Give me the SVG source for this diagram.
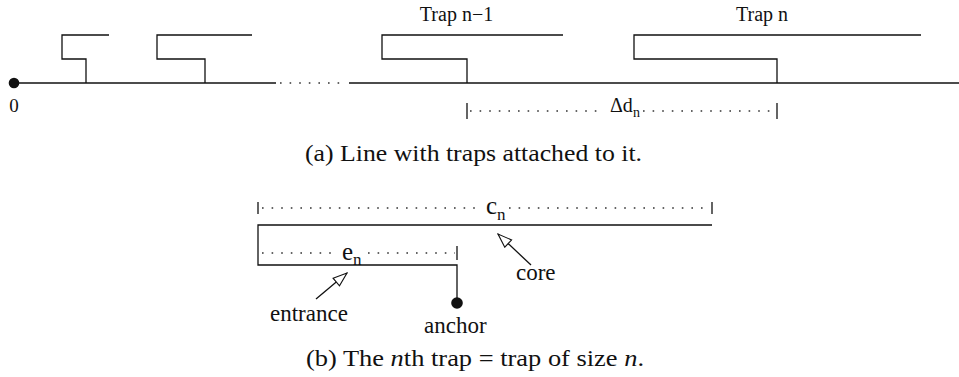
<svg xmlns="http://www.w3.org/2000/svg" width="959" height="377" viewBox="0 0 959 377">
<defs>
<style>
.ln{fill:none;stroke:#111;stroke-width:1.3}
.dot{fill:none;stroke:#333;stroke-width:1.6;stroke-dasharray:1.6 8}
.t{font-family:"Liberation Serif","Times New Roman",serif;fill:#111}
</style>
<marker id="hollow" viewBox="0 0 16 12" refX="15" refY="6" markerWidth="16" markerHeight="12" markerUnits="userSpaceOnUse" orient="auto">
<path d="M1,1 L15,6 L1,11 Z" fill="#fff" stroke="#111" stroke-width="1.1"/>
</marker>
</defs>
<rect width="959" height="377" fill="#fff"/>

<g id="line">
<circle cx="14" cy="83" r="5.3" fill="#111"/>
<line class="ln" x1="14" y1="83" x2="276" y2="83"/>
<line class="dot" x1="280" y1="83" x2="346" y2="83"/>
<line class="ln" x1="349" y1="83" x2="959" y2="83"/>
<text class="t" x="14" y="112" font-size="19" text-anchor="middle">0</text>
</g>

<g id="trap1"><path class="ln" d="M109,35 H62 V59 H86 V83"/></g>
<g id="trap2"><path class="ln" d="M252,35 H157 V59 H205 V83"/></g>
<g id="trap-n-1">
<path class="ln" d="M563,35 H382 V59 H467 V83"/>
<text class="t" x="456.5" y="21" font-size="20" text-anchor="middle">Trap n−1</text>
</g>
<g id="trap-n">
<path class="ln" d="M921,35 H634 V59 H777 V83"/>
<text class="t" x="762" y="21" font-size="20" text-anchor="middle">Trap n</text>
</g>

<g id="delta-d">
<line class="ln" x1="467" y1="103" x2="467" y2="119" stroke-width="1"/>
<line class="ln" x1="777" y1="103" x2="777" y2="119" stroke-width="1"/>
<line class="dot" x1="470" y1="111" x2="604" y2="111"/>
<line class="dot" x1="643" y1="111" x2="775" y2="111"/>
<text class="t" x="610" y="112" font-size="20">Δd<tspan font-size="14" dy="5">n</tspan></text>
</g>

<text class="t" x="473.5" y="161" font-size="24" text-anchor="middle" textLength="337" lengthAdjust="spacingAndGlyphs">(a) Line with traps attached to it.</text>

<g id="trap-b">
<path class="ln" d="M712,225 H258 V265 H457 V303"/>
<circle cx="457" cy="303" r="5.8" fill="#111"/>
</g>

<g id="c-n">
<line class="ln" x1="258" y1="202" x2="258" y2="214" stroke-width="1"/>
<line class="ln" x1="712" y1="202" x2="712" y2="214" stroke-width="1"/>
<line class="dot" x1="262" y1="208" x2="479" y2="208"/>
<line class="dot" x1="509" y1="208" x2="710" y2="208"/>
<text class="t" x="486" y="214" font-size="25">c<tspan font-size="17" dy="6">n</tspan></text>
</g>

<g id="e-n">
<line class="ln" x1="457" y1="246" x2="457" y2="260" stroke-width="1"/>
<line class="dot" x1="262" y1="253" x2="338" y2="253"/>
<line class="dot" x1="368" y1="253" x2="455" y2="253"/>
<text class="t" x="342" y="260" font-size="25">e<tspan font-size="17" dy="5">n</tspan></text>
</g>

<g id="connectors">
<line class="ln" x1="531" y1="265" x2="498" y2="234" marker-end="url(#hollow)"/>
<line class="ln" x1="316" y1="299" x2="347" y2="273" marker-end="url(#hollow)"/>
</g>

<g id="labels">
<text class="t" x="516" y="280" font-size="23">core</text>
<text class="t" x="270" y="321" font-size="23">entrance</text>
<text class="t" x="424" y="333" font-size="23">anchor</text>
</g>

<text class="t" x="475" y="366" font-size="24" text-anchor="middle" textLength="338" lengthAdjust="spacingAndGlyphs">(b) The <tspan font-style="italic">n</tspan>th trap = trap of size <tspan font-style="italic">n</tspan>.</text>
</svg>
